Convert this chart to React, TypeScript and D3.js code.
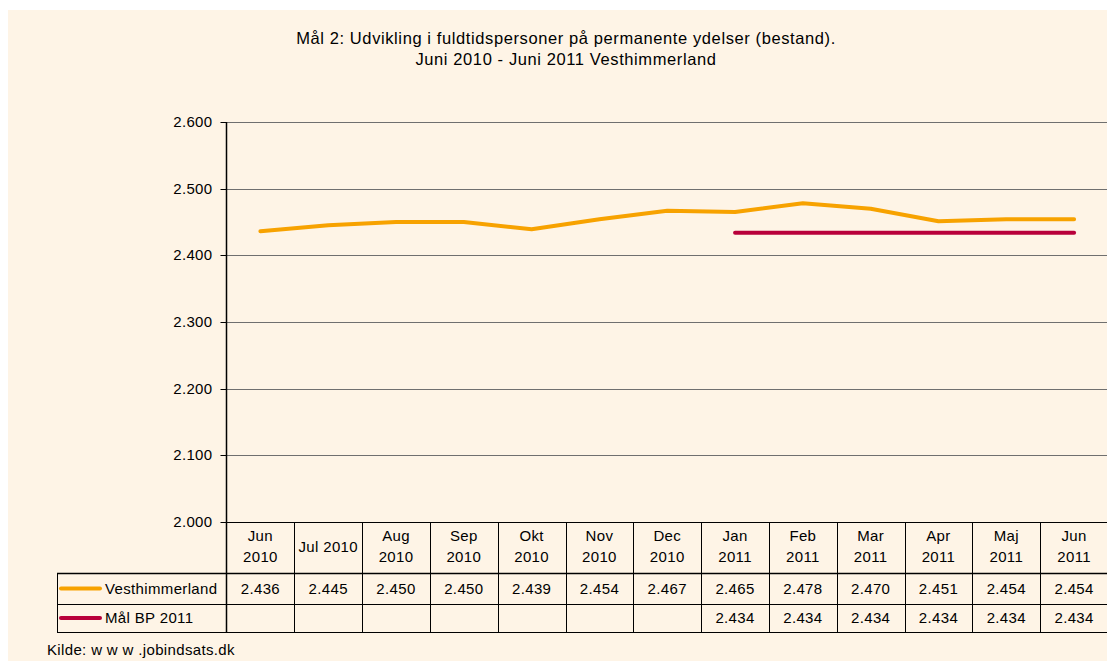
import React from "react";
import * as d3 from "d3";

const categories = [
  ["Jun", "2010"], ["Jul 2010"], ["Aug", "2010"], ["Sep", "2010"], ["Okt", "2010"],
  ["Nov", "2010"], ["Dec", "2010"], ["Jan", "2011"], ["Feb", "2011"], ["Mar", "2011"],
  ["Apr", "2011"], ["Maj", "2011"], ["Jun", "2011"],
];
const vesthimmerland = [2436, 2445, 2450, 2450, 2439, 2454, 2467, 2465, 2478, 2470, 2451, 2454, 2454];
const maalBP = [null, null, null, null, null, null, null, 2434, 2434, 2434, 2434, 2434, 2434];
const yTicks = [2000, 2100, 2200, 2300, 2400, 2500, 2600];
const seriesNames = ["Vesthimmerland", "Mål BP 2011"];
const titleLines = [
  "Mål 2: Udvikling i fuldtidspersoner på permanente ydelser (bestand).",
  "Juni 2010 - Juni 2011 Vesthimmerland",
];
const source = "Kilde: w w w .jobindsats.dk";

const W = 1107, H = 661;
const FONT = "'Liberation Sans', Arial, sans-serif";
const BG = "#FEF4E6";
const ORANGE = "#F7A200";
const RED = "#B8003A";
const FS = 15;
const LS = 0.35;

const locale = d3.formatLocale({ decimal: ",", thousands: ".", grouping: [3], currency: ["", " kr."] });
const fmt = locale.format(",.0f");

export default function App() {
  const left = 226.5, right = 1108, top = 122, bottom = 522;
  const x = d3.scaleBand<number>().domain(d3.range(categories.length)).range([left, right]).padding(0);
  const y = d3.scaleLinear().domain([2000, 2600]).range([bottom, top]);
  const cx = (i: number) => (x(i) as number) + x.bandwidth() / 2;
  const line = d3.line<number | null>()
    .defined((d) => d != null)
    .x((_, i) => cx(i))
    .y((d) => y(d as number));

  const rowH = [522, 573, 604, 632];
  const tableLeft = 57;
  const series = [vesthimmerland, maalBP];
  const colors = [ORANGE, RED];

  return (
    <div style={{ position: "absolute", left: 0, top: 0, width: W, height: H, background: "#fff" }}>
      <svg width={W} height={H} style={{ display: "block" }} fontFamily={FONT}>
        <rect x={8} y={10} width={W - 8} height={H - 10} fill={BG} />
        {titleLines.map((t, i) => (
          <text key={i} x={566} y={44 + i * 21} textAnchor="middle" fontSize={16.5} letterSpacing={0.6} fill="#000">{t}</text>
        ))}
        {/* gridlines */}
        {yTicks.map((t) => (
          <g key={t}>
            {t !== 2000 && (
              <line x1={left} x2={right} y1={Math.round(y(t)) + 0.5} y2={Math.round(y(t)) + 0.5} stroke="#6f6f6f" strokeWidth={1} />
            )}
            <line x1={left - 6} x2={left} y1={Math.round(y(t)) + 0.5} y2={Math.round(y(t)) + 0.5} stroke="#000" />
            <text x={left - 14} y={y(t) + 5} textAnchor="end" fontSize={FS} letterSpacing={LS} fill="#000">{fmt(t)}</text>
          </g>
        ))}
        {/* lines */}
        {series.map((s, k) => (
          <path key={k} d={line(s) || ""} fill="none" stroke={colors[k]} strokeWidth={4} strokeLinejoin="round" strokeLinecap="round" />
        ))}
        {/* table */}
        <line x1={left} x2={right} y1={rowH[0] + 0.5} y2={rowH[0] + 0.5} stroke="#000" />
        {rowH.slice(1).map((r, i) => (
          <line key={i} x1={tableLeft} x2={right} y1={r + 0.5} y2={r + 0.5} stroke="#000" strokeWidth={i === 0 ? 1.5 : 1} />
        ))}
        <line x1={tableLeft + 0.5} x2={tableLeft + 0.5} y1={rowH[1]} y2={rowH[3] + 1} stroke="#000" />
        <line x1={left} x2={left} y1={top} y2={rowH[3] + 1} stroke="#000" strokeWidth={1.5} />
        {categories.map((c, i) => (
          <g key={i}>
            {i > 0 && (
              <line x1={Math.round(x(i) as number) + 0.5} x2={Math.round(x(i) as number) + 0.5} y1={rowH[0]} y2={rowH[3] + 1} stroke="#000" />
            )}
            {c.length === 2 ? (
              c.map((l, j) => (
                <text key={j} x={cx(i)} y={541 + j * 21} textAnchor="middle" fontSize={FS} letterSpacing={LS} fill="#000">{l}</text>
              ))
            ) : (
              <text x={cx(i)} y={552} textAnchor="middle" fontSize={FS} letterSpacing={LS} fill="#000">{c[0]}</text>
            )}
            {series.map((s, k) => (
              s[i] != null ? (
                <text key={k} x={cx(i)} y={(rowH[k + 1] + rowH[k + 2]) / 2 + 5} textAnchor="middle" fontSize={FS} letterSpacing={LS} fill="#000">{fmt(s[i] as number)}</text>
              ) : null
            ))}
          </g>
        ))}
        {seriesNames.map((n, k) => (
          <g key={n}>
            <line x1={61} x2={100} y1={(rowH[k + 1] + rowH[k + 2]) / 2} y2={(rowH[k + 1] + rowH[k + 2]) / 2} stroke={colors[k]} strokeWidth={4} strokeLinecap="round" />
            <text x={105} y={(rowH[k + 1] + rowH[k + 2]) / 2 + 5} fontSize={FS} letterSpacing={LS} fill="#000">{n}</text>
          </g>
        ))}
        <text x={47} y={655} fontSize={FS} letterSpacing={LS} fill="#000">{source}</text>
      </svg>
    </div>
  );
}
